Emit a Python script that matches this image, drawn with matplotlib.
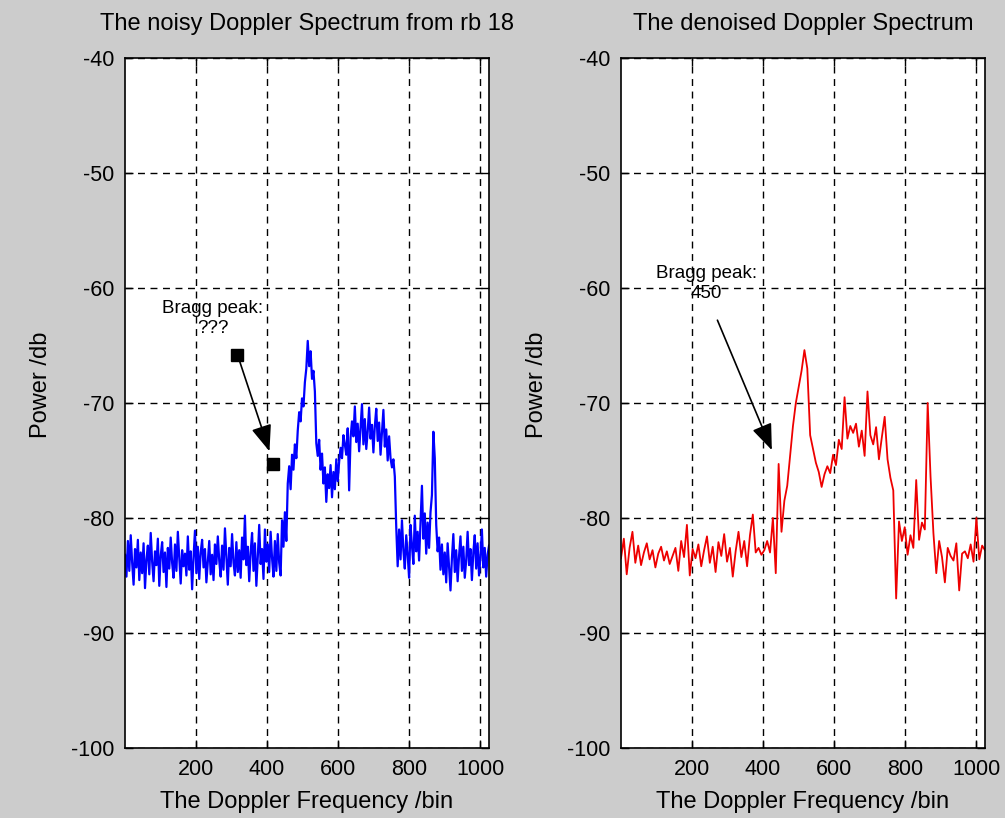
import numpy as np
import matplotlib
matplotlib.use('Agg')
import matplotlib.pyplot as plt

plt.rcParams['font.family'] = ['Liberation Sans', 'DejaVu Sans']
plt.rcParams['axes.unicode_minus'] = False

# noisy spectrum (range bin 18), read every 4 bins
power_noisy = [
    -83.2, -85.1, -82.0, -84.6, -81.5, -83.9, -85.8, -82.7, -84.3, -81.9, -85.4, -83.0, -84.8, -82.2, -86.1, -83.6,
    -82.4, -84.9, -81.3, -83.8, -85.5, -82.9, -84.1, -81.8, -85.9, -83.3, -82.1, -84.7, -83.0, -86.0, -82.6, -84.4,
    -81.7, -83.9, -85.2, -82.3, -84.6, -81.2, -83.5, -85.7, -82.8, -84.2, -83.1, -85.0, -81.6, -84.5, -82.9, -86.2,
    -83.4, -81.1, -84.8, -82.5, -85.3, -83.0, -81.9, -84.3, -82.7, -85.6, -83.8, -82.0, -84.9, -83.2, -85.4, -82.3,
    -84.0, -81.6, -83.7, -85.1, -82.4, -84.5, -80.9, -83.3, -85.8, -82.6, -84.2, -81.4, -83.9, -85.0, -82.1, -84.7,
    -82.8, -85.2, -81.7, -83.6, -79.8, -84.1, -82.5, -85.5, -83.0, -81.3, -84.6, -82.2, -85.9, -83.4, -80.6, -84.0,
    -82.7, -85.3, -81.0, -83.8, -82.3, -84.7, -81.2, -83.5, -85.1, -82.0, -84.6, -81.4, -83.9, -85.0, -80.2, -82.5,
    -79.5, -82.0, -77.0, -75.5, -77.5, -74.5, -75.8, -73.6, -74.8, -72.4, -70.8, -71.6, -69.6, -70.3, -68.2, -67.0,
    -64.6, -66.8, -65.5, -67.9, -67.2, -69.0, -73.5, -74.6, -73.2, -75.8, -74.4, -77.0, -75.6, -78.6, -76.2, -77.4,
    -75.4, -78.2, -76.0, -77.5, -74.9, -76.8, -75.1, -73.9, -74.8, -72.8, -73.6, -74.5, -72.2, -77.6, -73.0, -71.6,
    -72.9, -70.3, -73.4, -71.8, -74.2, -72.1, -70.1, -73.6, -71.4, -74.0, -72.5, -70.4, -73.1, -71.9, -74.3, -72.0,
    -70.5, -73.3, -71.7, -74.5, -72.6, -70.6, -73.8, -72.3, -75.0, -72.9, -74.8, -75.6, -74.9, -76.4, -80.8, -84.2,
    -81.0, -83.6, -80.2, -82.8, -84.4, -81.5, -83.2, -85.2, -80.6, -82.4, -84.0, -79.8, -82.9, -81.2, -83.7, -80.5,
    -77.2, -81.8, -79.6, -83.1, -80.4, -82.6, -79.5, -78.0, -72.5, -74.8, -80.6, -82.9, -81.7, -84.5, -82.3, -84.9,
    -83.0, -85.6, -82.2, -84.3, -86.3, -83.5, -81.4, -84.7, -82.8, -85.5, -83.3, -81.6, -84.6, -82.5, -85.2, -83.7,
    -81.2, -84.1, -82.7, -85.4, -83.0, -81.5, -84.4, -82.2, -85.0, -83.4, -81.0, -84.3, -82.6, -85.1, -83.2, -82.4,
]
bins_noisy = np.linspace(1, 1024, len(power_noisy))

# denoised spectrum, read every 8 bins
power_clean = [
    -83.5, -81.8, -84.9, -82.6, -81.2, -83.9, -82.4, -84.1, -83.0, -82.2, -83.6, -82.8, -84.3, -83.1, -82.5, -83.7,
    -82.9, -84.0, -83.3, -82.6, -84.6, -82.0, -83.4, -80.6, -85.0, -82.7, -83.5, -82.3, -84.2, -82.8, -81.6, -83.9,
    -82.5, -84.7, -82.1, -83.3, -81.4, -83.8, -82.6, -85.1, -82.9, -81.2, -83.4, -82.0, -84.2, -81.5, -79.7, -83.0,
    -82.6, -83.2, -82.8, -82.0, -83.0, -80.0, -84.8, -75.3, -81.2, -78.5, -77.2, -74.6, -72.0, -70.0, -68.6, -67.2,
    -65.4, -67.0, -72.8, -74.0, -75.2, -76.0, -77.3, -76.2, -75.5, -76.1, -74.5, -75.4, -73.2, -74.0, -69.5, -73.1,
    -72.0, -72.6, -71.8, -73.8, -72.4, -74.6, -69.0, -72.8, -73.6, -72.1, -74.9, -73.0, -71.2, -74.9, -76.5, -77.6,
    -87.0, -80.3, -82.0, -80.8, -83.2, -81.5, -82.6, -76.7, -81.9, -80.4, -81.0, -70.0, -76.4, -81.3, -84.8, -82.0,
    -83.4, -85.6, -82.6, -83.3, -83.7, -82.2, -86.3, -83.1, -82.9, -83.5, -82.3, -83.8, -80.0, -83.6, -82.4, -82.8,
]
bins_clean = np.linspace(1, 1024, len(power_clean))

xticks = [200, 400, 600, 800, 1000]
yticks = [-100, -90, -80, -70, -60, -50, -40]
titles = ['The noisy Doppler Spectrum from rb 18', 'The denoised Doppler Spectrum']

fig = plt.figure(figsize=(10.05, 8.18), dpi=100, facecolor='#cccccc')
ax1 = fig.add_axes([0.1244, 0.0856, 0.3622, 0.8435])
ax2 = fig.add_axes([0.6179, 0.0856, 0.3622, 0.8435])

ax1.plot(bins_noisy, power_noisy, color='#0000ff', lw=1.6)
ax2.plot(bins_clean, power_clean, color='#ee0000', lw=1.3)

for ax, t in zip([ax1, ax2], titles):
    ax.set_facecolor('white')
    ax.set_xlim(1, 1024)
    ax.set_ylim(-100, -40)
    ax.set_xticks(xticks)
    ax.set_yticks(yticks)
    ax.tick_params(direction='in', length=6, width=1, top=True, right=True,
                   labelsize=15.5, pad=8)
    ax.grid(True, color='black', linestyle=(0, (5, 4)), lw=1.0)
    for s in ax.spines.values():
        s.set_linewidth(1.2)
    ax.set_title(t, fontsize=17, pad=20)
    ax.set_xlabel('The Doppler Frequency /bin', fontsize=17, labelpad=8)
    ax.set_ylabel('Power /db', fontsize=17)
    ax.yaxis.set_label_coords(-0.2, 0.526)

arrow = dict(arrowstyle='-|>,head_length=0.9,head_width=0.35', color='black',
             lw=1.2, mutation_scale=18, shrinkA=0, shrinkB=0)

# left annotation
ax1.text(248, -62.65, 'Bragg peak:\n???', fontsize=13.5, ha='center', va='center',
         linespacing=1.25)
ax1.annotate('', xy=(407, -74.2), xytext=(317, -65.8), arrowprops=arrow)
ax1.plot([317, 418], [-65.8, -75.3], 's', color='black', ms=9, ls='none')

# right annotation
ax2.text(241, -59.6, 'Bragg peak:\n450', fontsize=13.5, ha='center', va='center',
         linespacing=1.25)
ax2.annotate('', xy=(425, -74.1), xytext=(272, -62.8), arrowprops=arrow)

plt.savefig('out.png', dpi=100, facecolor=fig.get_facecolor())
